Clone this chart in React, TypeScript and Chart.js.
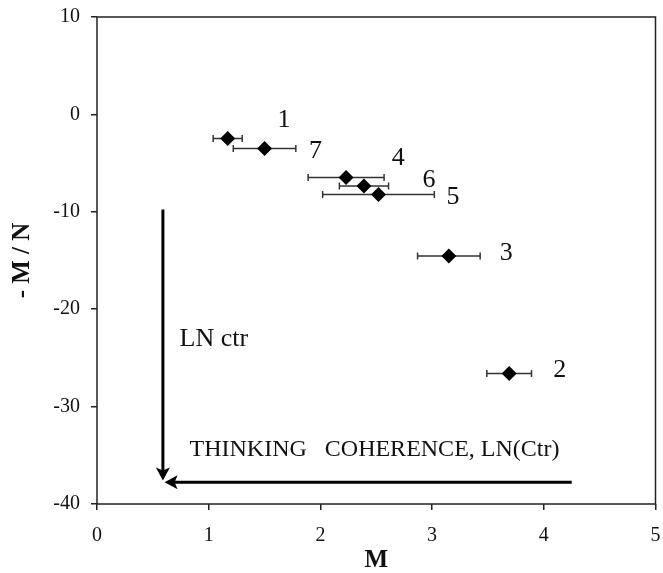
import React, { useEffect, useRef } from 'react';
import { Chart, registerables } from 'chart.js';

Chart.register(...registerables);

// ---- data ----
const groupLabels = ['1', '2', '3', '4', '5', '6', '7'];
const mValues = [1.17, 3.69, 3.15, 2.23, 2.52, 2.39, 1.5];
const mnValues = [-2.47, -26.6, -14.53, -6.47, -8.22, -7.34, -3.49];
const mErrors = [0.13, 0.2, 0.28, 0.34, 0.5, 0.22, 0.28];
// label anchors (data units)
const labelX = [1.674, 4.143, 3.663, 2.698, 3.188, 2.972, 1.956];
const labelY = [-0.59, -26.28, -14.22, -4.52, -8.47, -6.75, -3.73];

const xTicks = [0, 1, 2, 3, 4, 5];
const yTicks = [-40, -30, -20, -10, 0, 10];

// annotation geometry (data units)
const vArrow = { x: 0.59, yFrom: -9.76, yTo: -37.58 };
const hArrow = { y: -37.76, xFrom: 4.25, xTo: 0.605 };
const vText = { text: 'LN ctr', x: 0.739, y: -23.81 };
const hText = { text: 'THINKING   COHERENCE, LN(Ctr)', x: 0.828, y: -35.12 };

const SERIF = "'Liberation Serif', 'Times New Roman', serif";

function arrowHead(ctx: CanvasRenderingContext2D, tx: number, ty: number, dx: number, dy: number) {
  const len = 13;
  const hw = 7;
  const notch = 3;
  const px = -dy;
  const py = dx;
  const bx = tx - dx * len;
  const by = ty - dy * len;
  ctx.beginPath();
  ctx.moveTo(tx, ty);
  ctx.lineTo(bx + px * hw, by + py * hw);
  ctx.lineTo(tx - dx * (len - notch), ty - dy * (len - notch));
  ctx.lineTo(bx - px * hw, by - py * hw);
  ctx.closePath();
  ctx.fill();
}

const annotate = {
  id: 'annotate',
  beforeDatasetsDraw(chart: any) {
    const { ctx, scales } = chart;
    const x = scales.x;
    const y = scales.y;
    ctx.save();
    ctx.strokeStyle = '#333';
    ctx.lineWidth = 1.5;
    mValues.forEach((m, i) => {
      const py = y.getPixelForValue(mnValues[i]);
      const x1 = x.getPixelForValue(m - mErrors[i]);
      const x2 = x.getPixelForValue(m + mErrors[i]);
      ctx.beginPath();
      ctx.moveTo(x1, py);
      ctx.lineTo(x2, py);
      ctx.moveTo(x1, py - 3.5);
      ctx.lineTo(x1, py + 3.5);
      ctx.moveTo(x2, py - 3.5);
      ctx.lineTo(x2, py + 3.5);
      ctx.stroke();
    });
    ctx.restore();
  },
  afterDraw(chart: any) {
    const { ctx, scales, chartArea } = chart;
    const x = scales.x;
    const y = scales.y;
    ctx.save();
    // frame
    ctx.strokeStyle = '#222';
    ctx.lineWidth = 1.5;
    ctx.strokeRect(chartArea.left, chartArea.top, chartArea.right - chartArea.left, chartArea.bottom - chartArea.top);

    // arrows
    ctx.strokeStyle = '#000';
    ctx.fillStyle = '#000';
    ctx.lineWidth = 3;
    const vx = x.getPixelForValue(vArrow.x);
    const vy1 = y.getPixelForValue(vArrow.yFrom);
    const vy2 = y.getPixelForValue(vArrow.yTo);
    ctx.beginPath();
    ctx.moveTo(vx, vy1);
    ctx.lineTo(vx, vy2 - 8);
    ctx.stroke();
    arrowHead(ctx, vx, vy2, 0, 1);

    const hy = y.getPixelForValue(hArrow.y);
    const hx1 = x.getPixelForValue(hArrow.xFrom);
    const hx2 = x.getPixelForValue(hArrow.xTo);
    ctx.beginPath();
    ctx.moveTo(hx1, hy);
    ctx.lineTo(hx2 + 8, hy);
    ctx.stroke();
    arrowHead(ctx, hx2, hy, -1, 0);

    // texts
    ctx.fillStyle = '#111';
    ctx.textAlign = 'left';
    ctx.textBaseline = 'alphabetic';
    ctx.font = `26px ${SERIF}`;
    ctx.fillText(vText.text, x.getPixelForValue(vText.x), y.getPixelForValue(vText.y));
    ctx.font = `24px ${SERIF}`;
    ctx.fillText(hText.text, x.getPixelForValue(hText.x), y.getPixelForValue(hText.y));

    // point labels
    ctx.font = `26px ${SERIF}`;
    ctx.textAlign = 'center';
    ctx.textBaseline = 'middle';
    groupLabels.forEach((lab, i) => {
      ctx.fillText(lab, x.getPixelForValue(labelX[i]), y.getPixelForValue(labelY[i]));
    });
    ctx.restore();
  },
};

function zeroPad(s: any) {
  s.paddingTop = 0;
  s.paddingBottom = 0;
  s.paddingLeft = 0;
  s.paddingRight = 0;
}

export default function App() {
  const ref = useRef<HTMLCanvasElement | null>(null);
  useEffect(() => {
    document.body.style.margin = '0';
    const canvas = ref.current;
    if (!canvas) return;
    const chart = new Chart(canvas, {
      type: 'scatter',
      data: {
        datasets: [
          {
            data: mValues.map((m, i) => ({ x: m, y: mnValues[i] })),
            pointStyle: 'rectRot',
            pointRadius: 7.5,
            pointHoverRadius: 7.5,
            backgroundColor: '#000',
            borderColor: '#000',
            borderWidth: 0,
          },
        ],
      },
      options: {
        responsive: false,
        animation: false,
        events: [],
        layout: { padding: { left: 0, top: 17, right: 6, bottom: 0 } },
        plugins: { legend: { display: false }, tooltip: { enabled: false } },
        scales: {
          x: {
            type: 'linear',
            min: 0,
            max: 5,
            offset: false,
            afterBuildTicks: (s: any) => {
              s.ticks = xTicks.map((v) => ({ value: v }));
            },
            afterFit: (s: any) => {
              s.height = 69;
              zeroPad(s);
            },
            grid: { drawOnChartArea: false, drawTicks: true, tickLength: 6, color: '#222', lineWidth: 1.5 },
            border: { display: false },
            ticks: { color: '#111', font: { family: SERIF, size: 20 }, padding: 14, maxRotation: 0 },
            title: {
              display: true,
              text: 'M',
              color: '#111',
              font: { family: SERIF, size: 25, weight: 'bold', lineHeight: 1 },
              padding: { top: 0, bottom: 0 },
            },
          },
          y: {
            type: 'linear',
            min: -40,
            max: 10,
            offset: false,
            afterBuildTicks: (s: any) => {
              s.ticks = yTicks.map((v) => ({ value: v }));
            },
            afterFit: (s: any) => {
              s.width = 97;
              zeroPad(s);
            },
            grid: { drawOnChartArea: false, drawTicks: true, tickLength: 6, color: '#222', lineWidth: 1.5 },
            border: { display: false },
            ticks: { color: '#111', font: { family: SERIF, size: 20 }, padding: 11 },
            title: {
              display: true,
              text: '- M / N',
              color: '#111',
              font: { family: SERIF, size: 25, weight: 'bold', lineHeight: 1 },
              padding: { top: 10, bottom: 0 },
            },
          },
        },
      } as any,
      plugins: [annotate],
    });
    return () => chart.destroy();
  }, []);
  return (
    <div style={{ width: 663, height: 573 }}>
      <canvas ref={ref} width={663} height={573} style={{ display: 'block' }} />
    </div>
  );
}
